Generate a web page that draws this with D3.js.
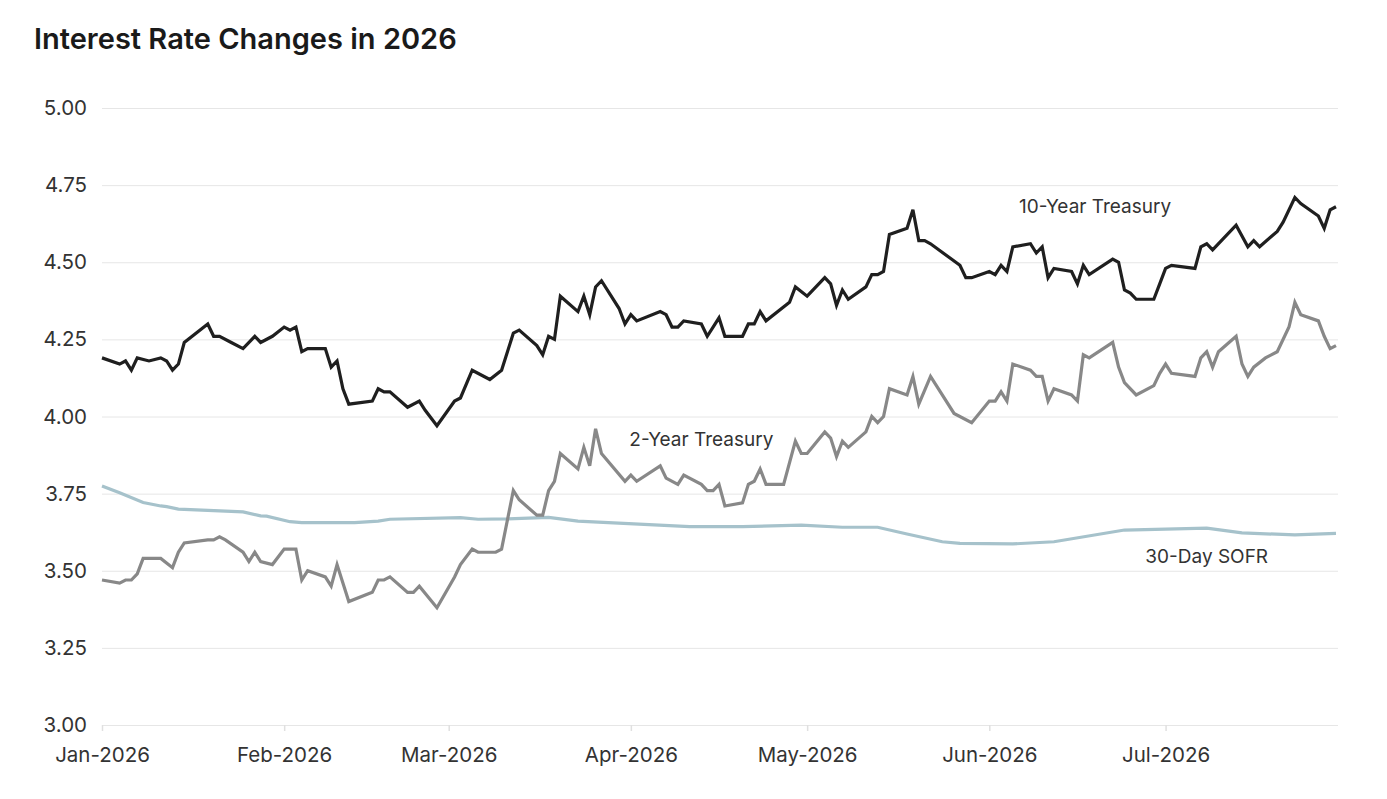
<!DOCTYPE html>
<html>
<head>
<meta charset="utf-8">
<script src="https://cdn.jsdelivr.net/npm/d3@7"></script>
<style>
  body { margin: 0; background: #fff; font-family: Inter, "Noto Sans", sans-serif; }
  .title { font-size: 29px; font-weight: 600; fill: #1a1a1a; }
  .tick text { font-family: Inter, sans-serif; font-size: 20.5px; fill: #333; }
  .series-label { font-family: Inter, sans-serif; font-size: 19px; fill: #333; }
</style>
</head>
<body>
<div id="chart"></div>
<script>
(function() {

    // Series data
    var tenYearDates = ["2026-01-01","2026-01-04","2026-01-05","2026-01-06","2026-01-07","2026-01-09","2026-01-11","2026-01-12","2026-01-13","2026-01-14","2026-01-15","2026-01-19","2026-01-20","2026-01-21","2026-01-23","2026-01-25","2026-01-27","2026-01-28","2026-01-30","2026-02-01","2026-02-02","2026-02-03","2026-02-04","2026-02-05","2026-02-08","2026-02-09","2026-02-10","2026-02-11","2026-02-12","2026-02-16","2026-02-17","2026-02-18","2026-02-19","2026-02-22","2026-02-24","2026-02-25","2026-02-27","2026-03-02","2026-03-03","2026-03-05","2026-03-08","2026-03-10","2026-03-12","2026-03-13","2026-03-16","2026-03-17","2026-03-18","2026-03-19","2026-03-20","2026-03-23","2026-03-24","2026-03-25","2026-03-26","2026-03-27","2026-03-30","2026-03-31","2026-04-01","2026-04-02","2026-04-06","2026-04-07","2026-04-08","2026-04-09","2026-04-10","2026-04-13","2026-04-14","2026-04-16","2026-04-17","2026-04-20","2026-04-21","2026-04-22","2026-04-23","2026-04-24","2026-04-28","2026-04-29","2026-05-01","2026-05-04","2026-05-05","2026-05-06","2026-05-07","2026-05-08","2026-05-11","2026-05-12","2026-05-13","2026-05-14","2026-05-15","2026-05-18","2026-05-19","2026-05-20","2026-05-21","2026-05-22","2026-05-27","2026-05-28","2026-05-29","2026-06-01","2026-06-02","2026-06-03","2026-06-04","2026-06-05","2026-06-08","2026-06-09","2026-06-10","2026-06-11","2026-06-12","2026-06-15","2026-06-16","2026-06-17","2026-06-18","2026-06-22","2026-06-23","2026-06-24","2026-06-25","2026-06-26","2026-06-29","2026-06-30","2026-07-01","2026-07-02","2026-07-06","2026-07-07","2026-07-08","2026-07-09","2026-07-13","2026-07-15","2026-07-16","2026-07-17","2026-07-20","2026-07-21","2026-07-23","2026-07-24","2026-07-27","2026-07-28","2026-07-29","2026-07-30"];
    var tenYearValues = [4.19,4.17,4.18,4.15,4.19,4.18,4.19,4.18,4.15,4.17,4.24,4.30,4.26,4.26,4.24,4.22,4.26,4.24,4.26,4.29,4.28,4.29,4.21,4.22,4.22,4.16,4.18,4.09,4.04,4.05,4.09,4.08,4.08,4.03,4.05,4.02,3.97,4.05,4.06,4.15,4.12,4.15,4.27,4.28,4.23,4.20,4.26,4.25,4.39,4.34,4.39,4.33,4.42,4.44,4.35,4.30,4.33,4.31,4.34,4.33,4.29,4.29,4.31,4.30,4.26,4.32,4.26,4.26,4.30,4.30,4.34,4.31,4.37,4.42,4.39,4.45,4.43,4.36,4.41,4.38,4.42,4.46,4.46,4.47,4.59,4.61,4.67,4.57,4.57,4.56,4.49,4.45,4.45,4.47,4.46,4.49,4.47,4.55,4.56,4.53,4.55,4.45,4.48,4.47,4.43,4.49,4.46,4.51,4.50,4.41,4.40,4.38,4.38,4.43,4.48,4.49,4.48,4.55,4.56,4.54,4.62,4.55,4.57,4.55,4.60,4.63,4.71,4.69,4.65,4.61,4.67,4.68];

    var twoYearDates = ["2026-01-01","2026-01-04","2026-01-05","2026-01-06","2026-01-07","2026-01-08","2026-01-11","2026-01-13","2026-01-14","2026-01-15","2026-01-19","2026-01-20","2026-01-21","2026-01-22","2026-01-25","2026-01-26","2026-01-27","2026-01-28","2026-01-30","2026-02-01","2026-02-03","2026-02-04","2026-02-05","2026-02-08","2026-02-09","2026-02-10","2026-02-12","2026-02-16","2026-02-17","2026-02-18","2026-02-19","2026-02-22","2026-02-23","2026-02-24","2026-02-27","2026-03-02","2026-03-03","2026-03-05","2026-03-06","2026-03-09","2026-03-10","2026-03-12","2026-03-13","2026-03-16","2026-03-17","2026-03-18","2026-03-19","2026-03-20","2026-03-23","2026-03-24","2026-03-25","2026-03-26","2026-03-27","2026-03-31","2026-04-01","2026-04-02","2026-04-06","2026-04-07","2026-04-09","2026-04-10","2026-04-13","2026-04-14","2026-04-15","2026-04-16","2026-04-17","2026-04-20","2026-04-21","2026-04-22","2026-04-23","2026-04-24","2026-04-27","2026-04-29","2026-04-30","2026-05-01","2026-05-04","2026-05-05","2026-05-06","2026-05-07","2026-05-08","2026-05-11","2026-05-12","2026-05-13","2026-05-14","2026-05-15","2026-05-18","2026-05-19","2026-05-20","2026-05-22","2026-05-26","2026-05-29","2026-06-01","2026-06-02","2026-06-03","2026-06-04","2026-06-05","2026-06-08","2026-06-09","2026-06-10","2026-06-11","2026-06-12","2026-06-15","2026-06-16","2026-06-17","2026-06-18","2026-06-22","2026-06-23","2026-06-24","2026-06-26","2026-06-29","2026-06-30","2026-07-01","2026-07-02","2026-07-06","2026-07-07","2026-07-08","2026-07-09","2026-07-10","2026-07-13","2026-07-14","2026-07-15","2026-07-16","2026-07-18","2026-07-20","2026-07-22","2026-07-23","2026-07-24","2026-07-27","2026-07-28","2026-07-29","2026-07-30"];
    var twoYearValues = [3.47,3.46,3.47,3.47,3.49,3.54,3.54,3.51,3.56,3.59,3.60,3.60,3.61,3.60,3.56,3.53,3.56,3.53,3.52,3.57,3.57,3.47,3.50,3.48,3.45,3.52,3.40,3.43,3.47,3.47,3.48,3.43,3.43,3.45,3.38,3.48,3.52,3.57,3.56,3.56,3.57,3.76,3.73,3.68,3.68,3.76,3.79,3.88,3.83,3.90,3.84,3.96,3.88,3.79,3.81,3.79,3.84,3.80,3.78,3.81,3.78,3.76,3.76,3.78,3.71,3.72,3.78,3.79,3.83,3.78,3.78,3.92,3.88,3.88,3.95,3.93,3.87,3.92,3.90,3.95,4.00,3.98,4.00,4.09,4.07,4.13,4.04,4.13,4.01,3.98,4.05,4.05,4.08,4.05,4.17,4.15,4.13,4.13,4.05,4.09,4.07,4.05,4.20,4.19,4.24,4.16,4.11,4.07,4.10,4.14,4.17,4.14,4.13,4.19,4.21,4.16,4.21,4.26,4.17,4.13,4.16,4.19,4.21,4.29,4.37,4.33,4.31,4.26,4.22,4.23];

    var sofrDates = ["2026-01-01","2026-01-04","2026-01-08","2026-01-11","2026-01-12","2026-01-14","2026-01-25","2026-01-28","2026-01-29","2026-02-02","2026-02-04","2026-02-13","2026-02-17","2026-02-19","2026-03-03","2026-03-06","2026-03-11","2026-03-18","2026-03-23","2026-04-11","2026-04-20","2026-04-30","2026-05-07","2026-05-13","2026-05-18","2026-05-24","2026-05-27","2026-06-05","2026-06-12","2026-06-24","2026-07-08","2026-07-14","2026-07-23","2026-07-30"];
    var sofrValues = [3.775,3.753,3.721,3.710,3.708,3.700,3.691,3.678,3.677,3.659,3.656,3.656,3.661,3.667,3.672,3.667,3.668,3.673,3.661,3.643,3.643,3.648,3.641,3.641,3.619,3.594,3.589,3.587,3.594,3.632,3.638,3.623,3.616,3.621];

    var yTicks = [3.00, 3.25, 3.50, 3.75, 4.00, 4.25, 4.50, 4.75, 5.00];

    var width = 1387;
    var height = 799;
    var margin = {top: 108, right: 51, bottom: 74, left: 102};

    var parse = d3.timeParse("%Y-%m-%d");

    function toPoints(dates, values) {
        return dates.map(function(d, i) { return {date: parse(d), value: values[i]}; });
    }

    var series = [
        {name: "10-Year Treasury", color: "#1f1f1f", points: toPoints(tenYearDates, tenYearValues)},
        {name: "2-Year Treasury", color: "#888888", points: toPoints(twoYearDates, twoYearValues)},
        {name: "30-Day SOFR", color: "#a6c2cb", points: toPoints(sofrDates, sofrValues)}
    ];

    var svg = d3.select("#chart")
        .append("svg")
        .attr("width", width)
        .attr("height", height);

    var x = d3.scaleTime()
        .domain([parse("2026-01-01"), parse("2026-07-30")])
        .range([margin.left, width - margin.right]);

    var y = d3.scaleLinear()
        .domain([3, 5])
        .range([height - margin.bottom, margin.top]);

    // Title
    svg.append("text")
        .attr("class", "title")
        .attr("x", 34)
        .attr("y", 49)
        .text("Interest Rate Changes in 2026");

    // Y axis with gridlines
    var yAxis = svg.append("g")
        .attr("transform", "translate(" + margin.left + ",0)")
        .call(d3.axisLeft(y)
            .tickValues(yTicks)
            .tickFormat(d3.format(".2f"))
            .tickSize(-(width - margin.left - margin.right + 2))
            .tickPadding(15));
    yAxis.select(".domain").remove();
    yAxis.selectAll(".tick line").attr("stroke", "#e6e6e6").attr("stroke-width", 1);

    // X axis
    var xAxis = svg.append("g")
        .attr("transform", "translate(0," + (height - margin.bottom) + ")")
        .call(d3.axisBottom(x)
            .ticks(d3.timeMonth.every(1))
            .tickFormat(d3.timeFormat("%b-%Y"))
            .tickSize(6)
            .tickPadding(16));
    xAxis.select(".domain").remove();
    xAxis.selectAll(".tick line").attr("stroke", "#e0e0e0").attr("stroke-width", 1.5);

    // Lines
    var line = d3.line()
        .x(function(d) { return x(d.date); })
        .y(function(d) { return y(d.value); });

    svg.append("g")
        .selectAll("path")
        .data(series.slice().reverse())
        .enter().append("path")
        .attr("fill", "none")
        .attr("stroke", function(d) { return d.color; })
        .attr("stroke-width", 3.2)
        .attr("stroke-linejoin", "miter")
        .attr("d", function(d) { return line(d.points); });

    // Series labels (centred on a date)
    var labels = [
        {text: "10-Year Treasury", date: "2026-06-19", value: 4.66},
        {text: "2-Year Treasury", date: "2026-04-13", value: 3.904},
        {text: "30-Day SOFR", date: "2026-07-08", value: 3.525}
    ];
    svg.append("g")
        .selectAll("text")
        .data(labels)
        .enter().append("text")
        .attr("class", "series-label")
        .attr("text-anchor", "middle")
        .attr("x", function(d) { return x(parse(d.date)); })
        .attr("y", function(d) { return y(d.value); })
        .text(function(d) { return d.text; });

})();
</script>
</body>
</html>
